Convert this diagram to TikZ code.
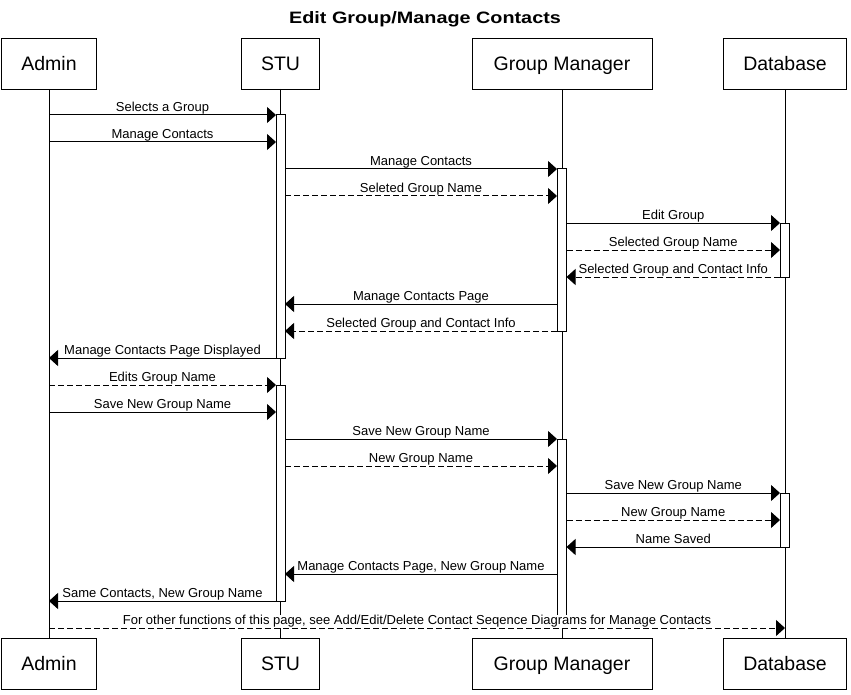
\documentclass[tikz,border=0pt]{standalone}
\usepackage{fontspec}
\usepackage{graphicx}
\setmainfont{Liberation Sans}
\usetikzlibrary{arrows.meta}
\tikzset{
  actor/.style={draw, line width=1pt, fill=white, minimum height=51pt, inner sep=0pt,
    text height=13.5pt, text depth=0pt, font=\fontsize{19.5}{22}\selectfont},
  life/.style={line width=1pt},
  actbar/.style={draw, line width=1pt, fill=white},
  msgline/.style={line width=1pt, -{Triangle[length=9pt,width=16pt]}},
  reply/.style={msgline, dash pattern=on 6pt off 3pt},
  lbl/.style={inner xsep=0.5pt, inner ysep=0.5pt, anchor=base, yshift=3.2pt,
    font=\fontsize{13}{15}\selectfont},
  lblw/.style={lbl, fill=white}
}
\newcommand\seqmsg[6]{%
  \coordinate (#1a) at (#2,#4);
  \coordinate (#1b) at (#3,#4);
  \draw[#5] (#1a) -- (#1b) node[lbl, midway] {#6};}
\begin{document}
\begin{tikzpicture}[x=1pt, y=-1pt]
\useasboundingbox (0,0) rectangle (851,695);
% title
\node[anchor=base, inner sep=0pt] (title) at (425,24)
  {\scalebox{1.2}[1]{\fontsize{16.5}{18}\selectfont\bfseries Edit Group/Manage Contacts}};
% actors
\node[actor, minimum width=95pt]  (adm)  at (49,63.7)  {Admin};
\node[actor, minimum width=78pt]  (stu)  at (280.5,63.7) {STU};
\node[actor, minimum width=180pt] (gm)   at (562,63.7) {Group Manager};
\node[actor, minimum width=123pt] (db)   at (785,63.7) {Database};
\node[actor, minimum width=95pt]  (adm2) at (49,663.8)  {Admin};
\node[actor, minimum width=78pt]  (stu2) at (280.5,663.8) {STU};
\node[actor, minimum width=180pt] (gm2)  at (562,663.8) {Group Manager};
\node[actor, minimum width=123pt] (db2)  at (785,663.8) {Database};
% lifelines
\draw[life] (adm.south) -- (adm2.north);
\draw[life] (280,89) coordinate (stuT) -- (280,638.3) coordinate (stuB);
\draw[life] (gm.south) -- (gm2.north);
\draw[life] (db.south) -- (db2.north);
% activation bars
\draw[actbar] (276,115) rectangle (285,358);
\draw[actbar] (276,385) rectangle (285,601);
\draw[actbar] (557,169) rectangle (566.5,331);
\draw[actbar] (557,439) rectangle (566.5,620);
\draw[actbar] (780,223) rectangle (789,277);
\draw[actbar] (780,493) rectangle (789,547);
% messages
\seqmsg{m1}{49}{276}{115}{msgline}{Selects a Group}
\seqmsg{m2}{49}{276}{142}{msgline}{Manage Contacts}
\seqmsg{m3}{285}{557}{169}{msgline}{Manage Contacts}
\seqmsg{m4}{285}{557}{196}{reply}{Seleted Group Name}
\seqmsg{m5}{566.5}{780}{223}{msgline}{Edit Group}
\seqmsg{m6}{566.5}{780}{250}{reply}{Selected Group Name}
\seqmsg{m7}{780}{566.5}{277}{reply}{Selected Group and Contact Info}
\seqmsg{m8}{557}{285}{304}{msgline}{Manage Contacts Page}
\seqmsg{m9}{557}{285}{331}{reply}{Selected Group and Contact Info}
\seqmsg{m10}{276}{49}{358}{msgline}{Manage Contacts Page Displayed}
\seqmsg{m11}{49}{276}{385}{reply}{Edits Group Name}
\seqmsg{m12}{49}{276}{412}{msgline}{Save New Group Name}
\seqmsg{m13}{285}{557}{439}{msgline}{Save New Group Name}
\seqmsg{m14}{285}{557}{466}{reply}{New Group Name}
\seqmsg{m15}{566.5}{780}{493}{msgline}{Save New Group Name}
\seqmsg{m16}{566.5}{780}{520}{reply}{New Group Name}
\seqmsg{m17}{780}{566.5}{547}{msgline}{Name Saved}
\seqmsg{m18}{557}{285}{574}{msgline}{Manage Contacts Page, New Group Name}
\seqmsg{m19}{276}{49}{601}{msgline}{Same Contacts, New Group Name}
% last message: label drawn first (white, hides lifelines), then the arrow on top
\coordinate (m20a) at (49,628);
\coordinate (m20b) at (785,628);
\node[lblw] (m20l) at (417,628)
  {For other functions of this page, see Add/Edit/Delete Contact Seqence Diagrams for Manage Contacts};
\draw[reply] (m20a) -- (m20b);
\end{tikzpicture}
\end{document}
